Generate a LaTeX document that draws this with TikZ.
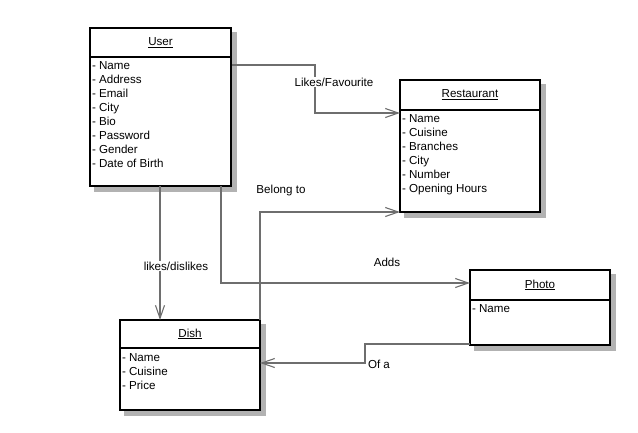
\documentclass[tikz,border=0pt]{standalone}
\usepackage{fontspec}
\setmainfont{Liberation Sans}
\usetikzlibrary{calc,arrows.meta}
\definecolor{conngray}{HTML}{6E6E6E}
\begin{document}
\begin{tikzpicture}[x=1pt,y=-1pt,
  every node/.style={font=\fontsize{11.6}{14}\selectfont, inner sep=0pt, outer sep=0pt},
  entity/.style={draw=black, line width=1.8pt, fill=white, anchor=north west},
  divider/.style={draw=black, line width=1.6pt},
  attrs/.style={anchor=north west, align=left},
  conn/.style={draw=conngray, line width=1.2pt},
  arr/.style={-{Straight Barb[length=13pt,width=9pt,line width=1.1pt]}},
  lab/.style={fill=white, inner sep=1pt}
]
\useasboundingbox (0,0) rectangle (638,432);

% Shadows
\fill[black!30] (94,32) rectangle (237,192);
\fill[black!30] (404,84) rectangle (546,218);
\fill[black!30] (124,324) rectangle (266,416);
\fill[black!30] (474,274) rectangle (616,351);

% User
\node[entity, minimum width=141pt, minimum height=158pt] (user) at (90,28) {};
\draw[divider] ($(user.north west)+(0,29)$) -- ($(user.north east)+(0,29)$);
\node (userT) at ($(user.north)+(0,15)$) {\underline{User}};
\node[attrs] (userA) at ($(user.north west)+(2,34)$) {- Name\\- Address\\- Email\\- City\\- Bio\\- Password\\- Gender\\- Date of Birth};

% Restaurant
\node[entity, minimum width=140pt, minimum height=132pt] (rest) at (400,80) {};
\draw[divider] ($(rest.north west)+(0,30)$) -- ($(rest.north east)+(0,30)$);
\node (restT) at ($(rest.north)+(0,15)$) {\underline{Restaurant}};
\node[attrs] (restA) at ($(rest.north west)+(2,35)$) {- Name\\- Cuisine\\- Branches\\- City\\- Number\\- Opening Hours};

% Dish
\node[entity, minimum width=140pt, minimum height=90pt] (dish) at (120,320) {};
\draw[divider] ($(dish.north west)+(0,28)$) -- ($(dish.north east)+(0,28)$);
\node (dishT) at ($(dish.north)+(0,14)$) {\underline{Dish}};
\node[attrs] (dishA) at ($(dish.north west)+(2,34)$) {- Name\\- Cuisine\\- Price};

% Photo
\node[entity, minimum width=140pt, minimum height=75pt] (photo) at (470,270) {};
\draw[divider] ($(photo.north west)+(0,30)$) -- ($(photo.north east)+(0,30)$);
\node (photoT) at ($(photo.north)+(0,15)$) {\underline{Photo}};
\node[attrs] (photoA) at ($(photo.north west)+(2,35)$) {- Name};

% Connectors
\draw[conn, arr] ($(user.north east)+(1,37)$) -| (315,89) |- ($(rest.north west)+(0,33)$);
\node[lab] (l1) at (334,82) {Likes/Favourite};

\draw[conn, arr] ($(user.south west)+(70,0)$) -- ($(dish.north west)+(40,0)$);
\node[lab] (l2) at (176,266) {likes/dislikes};

\draw[conn, arr] ($(user.south west)+(131,0)$) |- ($(photo.north west)+(0,13)$);
\node (l3) at (387,262) {Adds};

\draw[conn, arr] (dish.north east) |- (rest.south west);
\node (l4) at (281,190) {Belong to};

\draw[conn, arr] ($(photo.south west)+(0,-1)$) -| (365,354) |- ($(dish.north east)+(0,43)$);
\node[anchor=west] (l5) at (368,364) {Of a};
\end{tikzpicture}
\end{document}
